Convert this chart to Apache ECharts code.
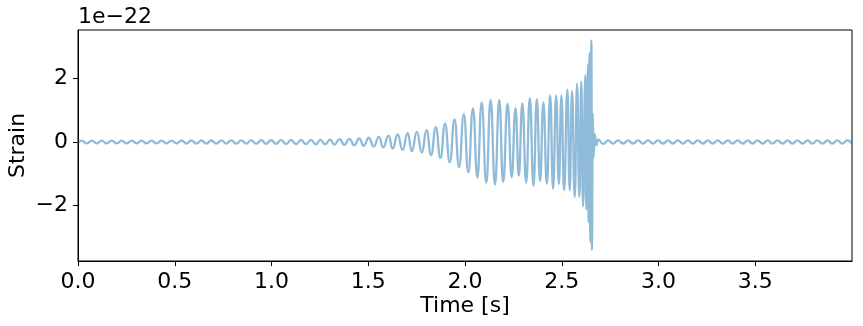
<!DOCTYPE html>
<html>
<head>
<meta charset="utf-8">
<script src="https://cdn.jsdelivr.net/npm/echarts@6/dist/echarts.min.js"></script>
<style>
  html, body { margin: 0; background: #fff; }
  #chart { width: 863px; height: 326px; }
</style>
</head>
<body>
<div id="chart"></div>
<script>
// strain values are in units of 1e-22 (peaks and troughs)
const preTimes = [0.000, 0.020, 0.045, 0.071, 0.097, 0.123, 0.148, 0.174, 0.200, 0.226, 0.251, 0.277, 0.303, 0.329, 0.354, 0.380, 0.406, 0.432, 0.457, 0.483, 0.509, 0.535, 0.560, 0.586, 0.612, 0.638, 0.663, 0.689, 0.715, 0.741, 0.766, 0.792, 0.818, 0.844, 0.869, 0.895, 0.921, 0.947, 0.972, 0.998, 1.024, 1.050, 1.075, 1.101, 1.127, 1.153, 1.178]
const preStrain = [-0.035, 0.045, -0.045, 0.045, -0.045, 0.045, -0.045, 0.045, -0.045, 0.045, -0.045, 0.045, -0.045, 0.045, -0.045, 0.045, -0.045, 0.045, -0.045, 0.045, -0.045, 0.047, -0.047, 0.047, -0.047, 0.048, -0.048, 0.048, -0.048, 0.05, -0.05, 0.05, -0.05, 0.052, -0.052, 0.053, -0.053, 0.055, -0.055, 0.056, -0.057, 0.058, -0.06, 0.06, -0.062, 0.063, -0.065]

const chirpTimes = [1.204, 1.229, 1.253, 1.277, 1.302, 1.325, 1.352, 1.376, 1.402, 1.428, 1.454, 1.476, 1.503, 1.528, 1.555, 1.577, 1.605, 1.626, 1.652, 1.677, 1.704, 1.725, 1.751, 1.777, 1.801, 1.825, 1.849, 1.873, 1.897, 1.921, 1.946, 1.969, 1.994, 2.017, 2.041, 2.064, 2.086, 2.110, 2.132, 2.155, 2.177, 2.197, 2.220, 2.241, 2.261, 2.278, 2.296, 2.316, 2.335, 2.354, 2.371, 2.388, 2.405, 2.423, 2.440, 2.455, 2.471, 2.485, 2.498, 2.512, 2.529, 2.541, 2.553, 2.567, 2.579, 2.591, 2.601, 2.610, 2.622, 2.627, 2.636, 2.639, 2.644, 2.648, 2.653, 2.656, 2.660, 2.664, 2.670, 2.678]
const chirpStrain = [0.065, -0.07, 0.07, -0.075, 0.075, -0.08, 0.09, -0.09, 0.10, -0.10, 0.115, -0.12, 0.135, -0.14, 0.16, -0.17, 0.20, -0.21, 0.24, -0.25, 0.28, -0.29, 0.32, -0.33, 0.37, -0.41, 0.46, -0.50, 0.58, -0.64, 0.71, -0.79, 0.87, -0.96, 1.06, -1.12, 1.25, -1.28, 1.33, -1.34, 1.33, -1.26, 1.21, -1.11, 1.07, -1.06, 1.22, -1.28, 1.38, -1.38, 1.35, -1.23, 1.25, -1.32, 1.47, -1.47, 1.47, -1.33, 1.47, -1.52, 1.65, -1.52, 1.60, -1.73, 1.84, -1.73, 1.90, -2.03, 2.10, -2.13, 2.45, -2.52, 2.80, -3.15, 3.20, -3.40, 0.9, -0.5, 0.25, -0.1]

const postTimes = [2.688, 2.714, 2.740, 2.765, 2.791, 2.817, 2.843, 2.868, 2.894, 2.920, 2.946, 2.971, 2.997, 3.023, 3.049, 3.074, 3.100, 3.126, 3.152, 3.177, 3.203, 3.229, 3.255, 3.280, 3.306, 3.332, 3.358, 3.383, 3.409, 3.435, 3.461, 3.486, 3.512, 3.538, 3.564, 3.589, 3.615, 3.641, 3.667, 3.692, 3.718, 3.744, 3.770, 3.795, 3.821, 3.847, 3.873, 3.898, 3.924, 3.950, 3.976, 3.9998]
const postStrain = [0.08, -0.06, 0.05, -0.05, 0.05, -0.05, 0.05, -0.05, 0.05, -0.05, 0.05, -0.05, 0.05, -0.05, 0.05, -0.05, 0.05, -0.05, 0.05, -0.05, 0.05, -0.05, 0.05, -0.05, 0.05, -0.05, 0.05, -0.05, 0.05, -0.05, 0.05, -0.05, 0.05, -0.05, 0.05, -0.05, 0.05, -0.05, 0.05, -0.05, 0.05, -0.05, 0.05, -0.05, 0.05, -0.05, 0.05, -0.05, 0.05, -0.05, 0.05, -0.045]

const xTicks = [0, 0.5, 1, 1.5, 2, 2.5, 3, 3.5]
const yTicks = [-2, 0, 2]

const times = preTimes.concat(chirpTimes, postTimes)
const strain = preStrain.concat(chirpStrain, postStrain)
const points = times.map((t, i) => [t, strain[i]])

const font = 'DejaVu Sans'
const chart = echarts.init(document.getElementById('chart'))
chart.setOption({
  animation: false,
  textStyle: { fontFamily: font },
  title: {
    text: '1e−22',
    left: 78,
    top: 6,
    padding: 0,
    textStyle: { fontSize: 22, fontWeight: 'normal', color: '#000', fontFamily: font }
  },
  grid: {
    left: 78, right: 11, top: 30, bottom: 65,
    containLabel: false,
    outerBoundsMode: 'none',
    show: true, borderColor: '#000', borderWidth: 1
  },
  xAxis: {
    type: 'value',
    min: 0,
    max: 3.9998,
    name: 'Time [s]',
    nameLocation: 'middle',
    nameGap: 34,
    nameMoveOverlap: false,
    nameTextStyle: { fontSize: 22, color: '#000', fontFamily: font },
    axisLine: { onZero: false, lineStyle: { color: '#000', width: 1 } },
    axisTick: { customValues: xTicks, length: 5, lineStyle: { color: '#000' } },
    axisLabel: {
      customValues: xTicks,
      formatter: v => v.toFixed(1),
      fontSize: 22, color: '#000', margin: 10, fontFamily: font
    },
    splitLine: { show: false }
  },
  yAxis: {
    type: 'value',
    min: -3.75,
    max: 3.53,
    name: 'Strain',
    nameLocation: 'middle',
    nameGap: 49,
    nameMoveOverlap: false,
    nameTextStyle: { fontSize: 22, color: '#000', fontFamily: font },
    axisLine: { show: true, onZero: false, lineStyle: { color: '#000', width: 1 } },
    axisTick: { show: true, customValues: yTicks, length: 5, lineStyle: { color: '#000' } },
    axisLabel: {
      customValues: yTicks,
      formatter: v => (v < 0 ? '−' + (-v) : String(v)),
      fontSize: 22, color: '#000', margin: 10, fontFamily: font
    },
    splitLine: { show: false }
  },
  series: [{
    type: 'line',
    data: points,
    showSymbol: false,
    smooth: 0.5,
    smoothMonotone: 'x',
    lineStyle: { color: '#1f77b4', opacity: 0.5, width: 2.3 }
  }]
})
</script>
</body>
</html>
